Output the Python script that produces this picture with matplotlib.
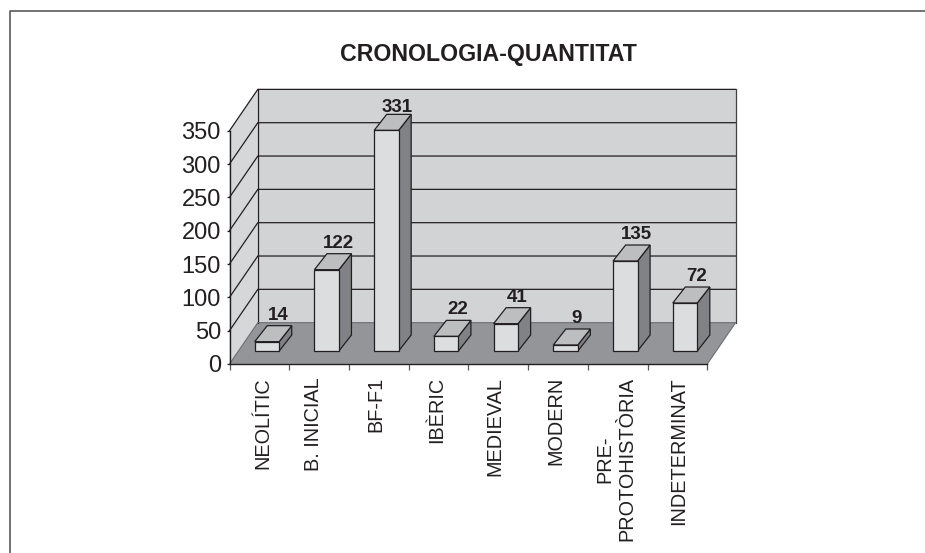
import matplotlib
matplotlib.use('Agg')
import matplotlib.pyplot as plt
from matplotlib.lines import Line2D
from matplotlib.transforms import ScaledTranslation

plt.rcParams['font.family'] = ['Liberation Sans', 'DejaVu Sans']

categories = ['NEOLÍTIC', 'B. INICIAL', 'BF-F1', 'IBÈRIC', 'MEDIEVAL', 'MODERN',
              'PRE-\nPROTOHISTÒRIA', 'INDETERMINAT']
values = [14, 122, 331, 22, 41, 9, 135, 72]
y_ticks = [0, 50, 100, 150, 200, 250, 300, 350]

W, H = 925, 553
INK = '#231f20'
WALL = '#d2d3d5'
SIDE = '#d6d7d9'
FLOOR = '#939598'
FRONT = '#dcddde'
TOP = '#bcbec0'
DARK = '#808285'

# oblique offset of the back wall, in data units
DX, DY = 0.474, 62
# bar box inside each category
BAR_L, BAR_W = 0.422, 0.41
BAR_BASE = 19.5
BAR_DX, BAR_DY = 0.21, 24

fig = plt.figure(figsize=(W / 100, H / 100), dpi=100)
ax = fig.add_axes([229.5 / W, 1 - 364 / H, 477.8 / W, 233.3 / H])
ax.set_xlim(0, 8)
ax.set_ylim(0, 350)
ax.patch.set_visible(False)

# walls and floor
ax.fill([DX, 8 + DX, 8 + DX, DX], [DY, DY, 350 + DY, 350 + DY], fc=WALL, ec='none', clip_on=False, zorder=1)
ax.fill([0, DX, DX, 0], [0, DY, 350 + DY, 350], fc=SIDE, ec='none', clip_on=False, zorder=1)
ax.fill([0, 8, 8 + DX, DX], [0, 0, DY, DY], fc=FLOOR, ec='none', clip_on=False, zorder=2)

for v in y_ticks[1:]:
    ax.plot([0, DX, 8 + DX], [v, v + DY, v + DY], color=INK, lw=0.9, clip_on=False, zorder=2)
ax.plot([DX, DX], [DY, 350 + DY], color=INK, lw=0.9, clip_on=False, zorder=2)
ax.plot([8 + DX, 8 + DX], [DY, 350 + DY], color='#414042', lw=0.9, clip_on=False, zorder=2)
ax.plot([0, DX, 8 + DX, 8], [0, DY, DY, 0], color='#6d6e71', lw=0.8, clip_on=False, zorder=3)

# bars
for i, val in enumerate(values):
    x0 = i + BAR_L
    x1 = x0 + BAR_W
    y0 = BAR_BASE
    y1 = BAR_BASE + val
    ax.fill([x1, x1 + BAR_DX, x1 + BAR_DX, x1], [y0, y0 + BAR_DY, y1 + BAR_DY, y1],
            fc=DARK, ec=INK, lw=0.9, clip_on=False, zorder=4)
    ax.fill([x0, x0 + BAR_DX, x1 + BAR_DX, x1], [y1, y1 + BAR_DY, y1 + BAR_DY, y1],
            fc=TOP, ec=INK, lw=0.9, clip_on=False, zorder=4)
    ax.fill([x0, x1, x1, x0], [y0, y0, y1, y1], fc=FRONT, ec=INK, lw=0.9, clip_on=False, zorder=5)
    # the tallest label sits closer to its bar in the original
    gap = 2 if val == max(values) else 4.3
    ax.annotate(str(val), (x0 + BAR_W / 2 + BAR_DX * 0.9, y1 + BAR_DY), xytext=(0, gap), textcoords='offset points',
                ha='center', va='baseline', fontsize=13.5, fontweight='bold', color=INK,
                annotation_clip=False, zorder=6)

# axes
for s in ['top', 'right']:
    ax.spines[s].set_visible(False)
for s in ['left', 'bottom']:
    ax.spines[s].set_color(INK)
    ax.spines[s].set_linewidth(1.0)
    ax.spines[s].set_zorder(6)
ax.set_yticks(y_ticks)
ax.tick_params(axis='y', length=2.2, width=0.9, color=INK, labelsize=17, labelcolor=INK, pad=4)
ax.set_xticks(range(9))
ax.set_xticklabels([])
ax.tick_params(axis='x', which='major', length=4.5, width=0.9, color='#58595b')
ax.set_xticks([i + 0.5 for i in range(8)], minor=True)
ax.set_xticklabels(categories, minor=True, rotation=90, ha='center', va='top', multialignment='center',
                   fontsize=14.3, color=INK)
ax.tick_params(axis='x', which='minor', length=0, pad=9.5)

# small nudges of the category labels, in pixels
nudges = [3.5, -6, -3, -2, -3, -2, -2, 1]
for lab, dx in zip(ax.get_xticklabels(minor=True), nudges):
    lab.set_transform(lab.get_transform() + ScaledTranslation(dx / 100, 0, fig.dpi_scale_trans))

# title and page frame
fig.text(488 / W, 1 - 54 / H, 'CRONOLOGIA-QUANTITAT', ha='center', va='center', fontsize=16.7,
         fontweight='bold', color=INK)
fig.add_artist(Line2D([9.5 / W, 9.5 / W, 1], [0, 1 - 11 / H, 1 - 11 / H], color='#58595b', lw=1.2))

fig.savefig('out.png', dpi=100)
